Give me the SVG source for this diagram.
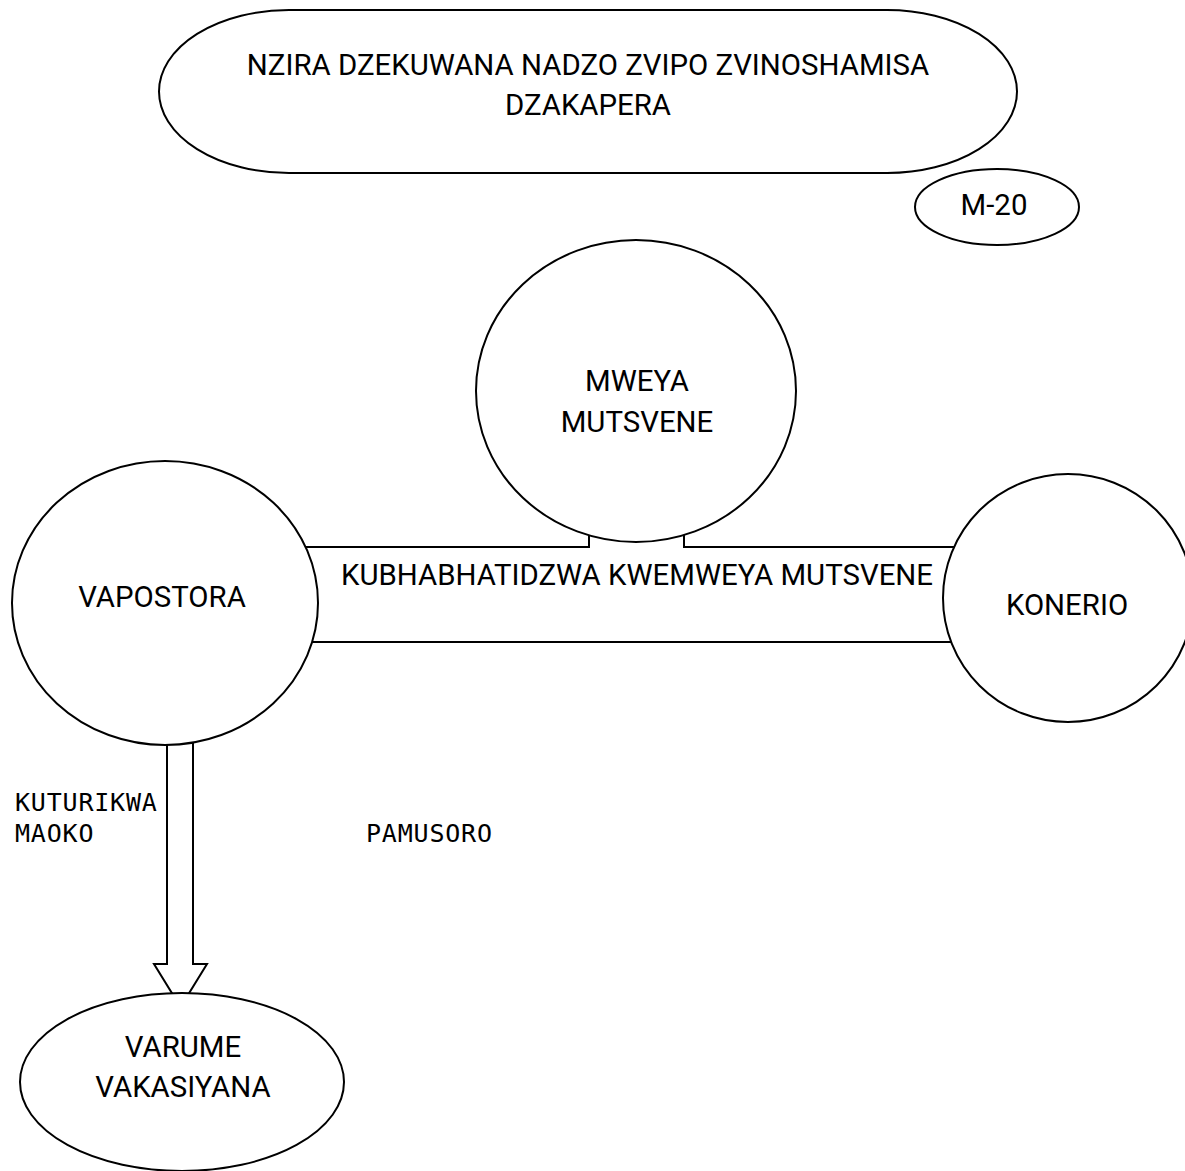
<svg xmlns="http://www.w3.org/2000/svg" width="1185" height="1171" viewBox="0 0 1185 1171">
<style>
.shape{fill:#fff;stroke:#000;stroke-width:2}
.lbl{font-family:Roboto,"Liberation Sans",sans-serif;font-size:29.4px;fill:#000;text-anchor:middle}
.mono{font-family:"DejaVu Sans Mono","Liberation Mono",monospace;font-size:25px;letter-spacing:0.8px;fill:#000}
</style>
<rect width="1185" height="1171" fill="#fff"/>
<g id="connectors">
<path id="c-baptism" class="shape" d="M165,547 H589 V470 H684 V547 H1068 V642 H165 Z"/>
<text class="lbl" x="637" y="585">KUBHABHATIDZWA KWEMWEYA MUTSVENE</text>
<path id="c-hands" class="shape" d="M167,700 V964 H154 L180.5,1007 L207,964 H193 V700 Z"/>
<text class="mono" x="15" y="811">KUTURIKWA</text>
<text class="mono" x="15" y="842">MAOKO</text>
<text class="mono" x="366" y="842">PAMUSORO</text>
</g>
<g id="title">
<rect class="shape" x="159" y="10" width="858" height="163" rx="130" ry="82"/>
<text class="lbl" x="588" y="75">NZIRA DZEKUWANA NADZO ZVIPO ZVINOSHAMISA</text>
<text class="lbl" x="588" y="115">DZAKAPERA</text>
</g>
<g id="m20">
<ellipse class="shape" cx="997" cy="207" rx="82" ry="38"/>
<text class="lbl" x="994" y="215">M-20</text>
</g>
<g id="mweya">
<ellipse class="shape" cx="636" cy="391" rx="160" ry="151"/>
<text class="lbl" x="637" y="391">MWEYA</text>
<text class="lbl" x="637" y="432">MUTSVENE</text>
</g>
<g id="vapostora">
<ellipse class="shape" cx="165" cy="603" rx="153" ry="142"/>
<text class="lbl" x="162" y="607">VAPOSTORA</text>
</g>
<g id="konerio">
<ellipse class="shape" cx="1068" cy="598" rx="125" ry="124"/>
<text class="lbl" x="1067" y="615">KONERIO</text>
</g>
<g id="varume">
<ellipse class="shape" cx="182" cy="1082" rx="162" ry="89"/>
<text class="lbl" x="183" y="1057">VARUME</text>
<text class="lbl" x="183" y="1097">VAKASIYANA</text>
</g>
</svg>
